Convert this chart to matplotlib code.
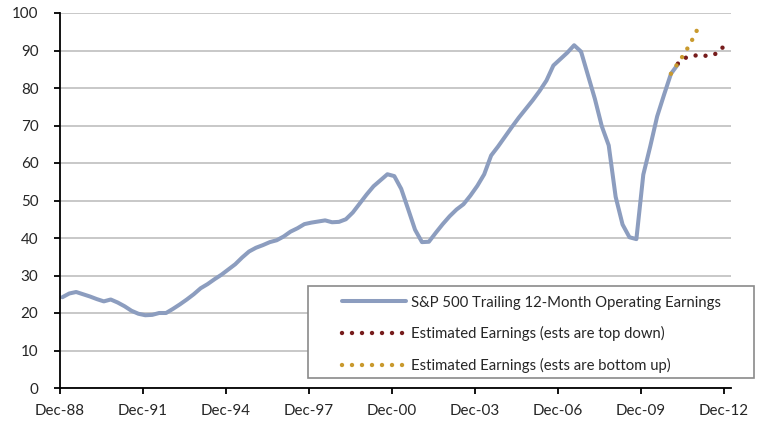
import matplotlib
matplotlib.use("Agg")
import matplotlib.pyplot as plt
from matplotlib.patches import Rectangle

plt.rcParams['font.family'] = ['Lato', 'DejaVu Sans']

# Quarterly S&P 500 trailing 12-month operating earnings, starting Dec-88 (quarter ends)
start_year = 1989.0
actual = [24.2, 25.2, 25.6, 25.0, 24.4, 23.7, 23.1, 23.6, 22.8, 21.8,
          20.6, 19.8, 19.4, 19.5, 20.0, 20.0, 21.1, 22.3, 23.6, 25.0,
          26.6, 27.7, 29.0, 30.2, 31.6, 33.0, 34.8, 36.4, 37.4, 38.1,
          38.9, 39.4, 40.4, 41.7, 42.6, 43.7, 44.1, 44.4, 44.7, 44.2,
          44.3, 45.0, 46.8, 49.2, 51.6, 53.8, 55.4, 57.0, 56.5, 53.1,
          47.7, 42.2, 38.9, 39.0, 41.4, 43.7, 45.8, 47.6, 49.0, 51.3,
          53.9, 57.0, 62.0, 64.4, 67.0, 69.6, 72.1, 74.4, 76.7, 79.2,
          82.0, 86.0, 87.7, 89.4, 91.4, 89.7, 83.4, 77.1, 69.8, 64.7,
          51.0, 43.6, 40.2, 39.7, 56.9, 64.4, 72.4, 78.2, 83.8, 86.3]

# Estimates (top down), quarterly from Jun-11
top_down_start = 2011.25
top_down = [86.5, 88.0, 88.5, 88.8, 88.6, 88.8, 89.5, 92.3]

# Estimates (bottom up), quarterly from Dec-10
bottom_up_start = 2011.0
bottom_up = [83.8, 86.6, 89.3, 92.6, 96.3]

tick_years = [1988, 1991, 1994, 1997, 2000, 2003, 2006, 2009, 2012]
tick_labels = ['Dec-88', 'Dec-91', 'Dec-94', 'Dec-97', 'Dec-00',
               'Dec-03', 'Dec-06', 'Dec-09', 'Dec-12']

labels = ['S&P 500 Trailing 12-Month Operating Earnings',
          'Estimated Earnings (ests are top down)',
          'Estimated Earnings (ests are bottom up)']

x_act = [start_year + 0.25 * i for i in range(len(actual))]
x_td = [top_down_start + 0.25 * i for i in range(len(top_down))]
x_bu = [bottom_up_start + 0.25 * i for i in range(len(bottom_up))]

W, H = 761, 424
fig = plt.figure(figsize=(W / 100, H / 100), dpi=100)
ax = fig.add_axes([60 / W, 1 - 388 / H, (731 - 60) / W, (388 - 13) / H])

text_color = '#262626'
blue = '#8c9dbf'
red = '#761c1c'
gold = '#c99a2e'

l1, = ax.plot(x_act, actual, color=blue, lw=2.9, solid_capstyle='round',
              solid_joinstyle='round', zorder=3)
l2, = ax.plot(x_td, top_down, color=red, lw=3.2, linestyle=(0, (0.001, 2.25)),
              dash_capstyle='round', zorder=4)
l3, = ax.plot(x_bu, bottom_up, color=gold, lw=3.2, linestyle=(0, (0.001, 2.25)),
              dash_capstyle='round', zorder=5)

ax.set_ylim(0, 100)
ax.set_xlim(1988 + 11 / 12, 2013.17)
ax.set_yticks(range(0, 101, 10))
ax.set_xticks([y + 11 / 12 for y in tick_years])
ax.set_xticklabels(tick_labels)

ax.grid(axis='y', color='#c4c4c4', lw=1.3, zorder=0)
ax.set_axisbelow(True)
for s in ['top', 'right']:
    ax.spines[s].set_visible(False)
for s in ['left', 'bottom']:
    ax.spines[s].set_color('black')
    ax.spines[s].set_linewidth(1.3)
    ax.spines[s].set_zorder(6)

ax.tick_params(axis='y', direction='out', length=4.5, width=1.3, pad=11,
               labelsize=10.9, labelcolor=text_color)
ax.tick_params(axis='x', direction='out', length=4.5, width=1.3, pad=7,
               labelsize=10.9, labelcolor=text_color)

# Legend frame
fig.patches.append(Rectangle((308 / W, 1 - 378 / H), (754 - 308) / W, (378 - 286) / H,
                             transform=fig.transFigure, facecolor='white',
                             edgecolor='#8a8a8a', lw=1.2, zorder=10))
leg = fig.legend([l1, l2, l3], labels, loc='upper left',
                 bbox_to_anchor=(341.7 / W, 1 - 295.5 / H), frameon=False,
                 borderpad=0, borderaxespad=0, handlelength=4.3,
                 handletextpad=0.35, labelspacing=1.12, fontsize=10.7,
                 labelcolor=text_color)
leg.set_zorder(11)

fig.savefig('out.png', dpi=100)
